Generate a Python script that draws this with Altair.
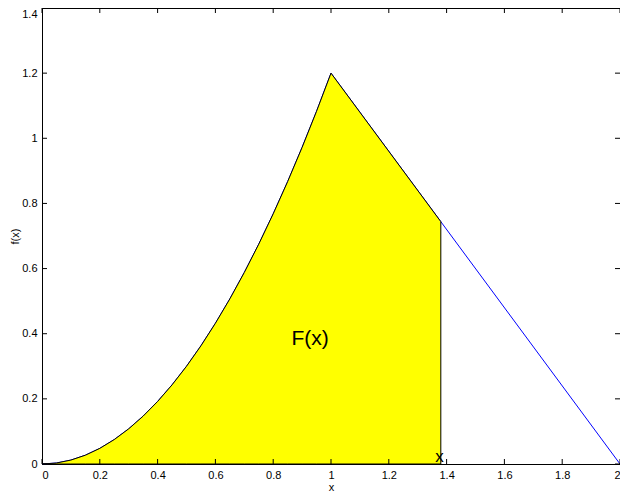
import altair as alt
import pandas as pd

# curve
curve_x = [0.0, 0.05, 0.1, 0.15, 0.2, 0.25, 0.3, 0.35, 0.4, 0.45, 0.5,
           0.55, 0.6, 0.65, 0.7, 0.75, 0.8, 0.85, 0.9, 0.95, 1.0, 1.38, 2.0]
curve_y = [0.0, 0.003, 0.012, 0.027, 0.048, 0.075, 0.108, 0.147, 0.192, 0.243, 0.3,
           0.363, 0.432, 0.507, 0.588, 0.675, 0.768, 0.867, 0.972, 1.083, 1.2, 0.744, 0.0]
fill_end = 1.38

x_ticks = [0, 0.2, 0.4, 0.6, 0.8, 1.0, 1.2, 1.4, 1.6, 1.8, 2.0]
y_ticks = [0, 0.2, 0.4, 0.6, 0.8, 1.0, 1.2, 1.4]

big_label = ["F(x)"]
big_x = [0.928]
big_y = [0.384]
small_label = ["x"]
small_x = [1.375]
small_y = [0.022]

W, H = 578, 456
FONT = "Liberation Sans"

df = pd.DataFrame({"x": curve_x, "y": curve_y})
fill_df = df[df["x"] <= fill_end]

xs = alt.Scale(domain=[0, 2], nice=False, zero=False)
ys = alt.Scale(domain=[0, 1.4], nice=False, zero=False)

x_axis = alt.Axis(values=x_ticks, format="~g", title="x", ticks=False, grid=False,
                  labelPadding=5, titlePadding=1, domainColor="black",
                  labelColor="black", titleColor="black", labelFontSize=11,
                  titleFontSize=11, titleFontWeight="normal", labelFont=FONT, titleFont=FONT)
y_axis = alt.Axis(values=y_ticks, format="~g", title="f(x)", ticks=False, grid=False,
                  labelPadding=5, titlePadding=1, domainColor="black",
                  labelColor="black", titleColor="black", labelFontSize=11,
                  labelBaseline=alt.condition("datum.value >= 1.4", alt.value("top"), alt.value("middle")),
                  titleFontSize=11, titleFontWeight="normal", labelFont=FONT, titleFont=FONT)

X = alt.X("x:Q", scale=xs, axis=x_axis)
Y = alt.Y("y:Q", scale=ys, axis=y_axis)

line = alt.Chart(df).mark_line(color="blue", strokeWidth=1).encode(x=X, y=Y)
area = alt.Chart(fill_df).mark_area(fill="#ffff00", stroke="black", strokeWidth=1,
                                    opacity=1).encode(x=X, y=Y)

xt = pd.DataFrame({"x": x_ticks})
yt = pd.DataFrame({"y": y_ticks})
xt_bottom = alt.Chart(xt).mark_rule(color="black").encode(x=X, y=alt.value(H), y2=alt.value(H - 5))
xt_top = alt.Chart(xt).mark_rule(color="black").encode(x=X, y=alt.value(0), y2=alt.value(5))
yt_left = alt.Chart(yt).mark_rule(color="black").encode(y=Y, x=alt.value(0), x2=alt.value(5))
yt_right = alt.Chart(yt).mark_rule(color="black").encode(y=Y, x=alt.value(W), x2=alt.value(W - 5))

t1 = alt.Chart(pd.DataFrame({"x": big_x, "y": big_y, "t": big_label})).mark_text(
    font=FONT, fontSize=21, color="black", align="center", baseline="middle").encode(x=X, y=Y, text="t:N")
t2 = alt.Chart(pd.DataFrame({"x": small_x, "y": small_y, "t": small_label})).mark_text(
    font=FONT, fontSize=17, color="black", align="center", baseline="middle").encode(x=X, y=Y, text="t:N")

chart = alt.layer(line, area, xt_bottom, xt_top, yt_left, yt_right, t1, t2).properties(
    width=W, height=H,
    autosize=alt.AutoSizeParams(type="none"),
    padding={"left": 34, "top": 0, "right": 0, "bottom": 27},
    background="white",
).configure_view(stroke="black", strokeWidth=1)

chart.save("out.html", embed_options={"renderer": "svg", "actions": False})
